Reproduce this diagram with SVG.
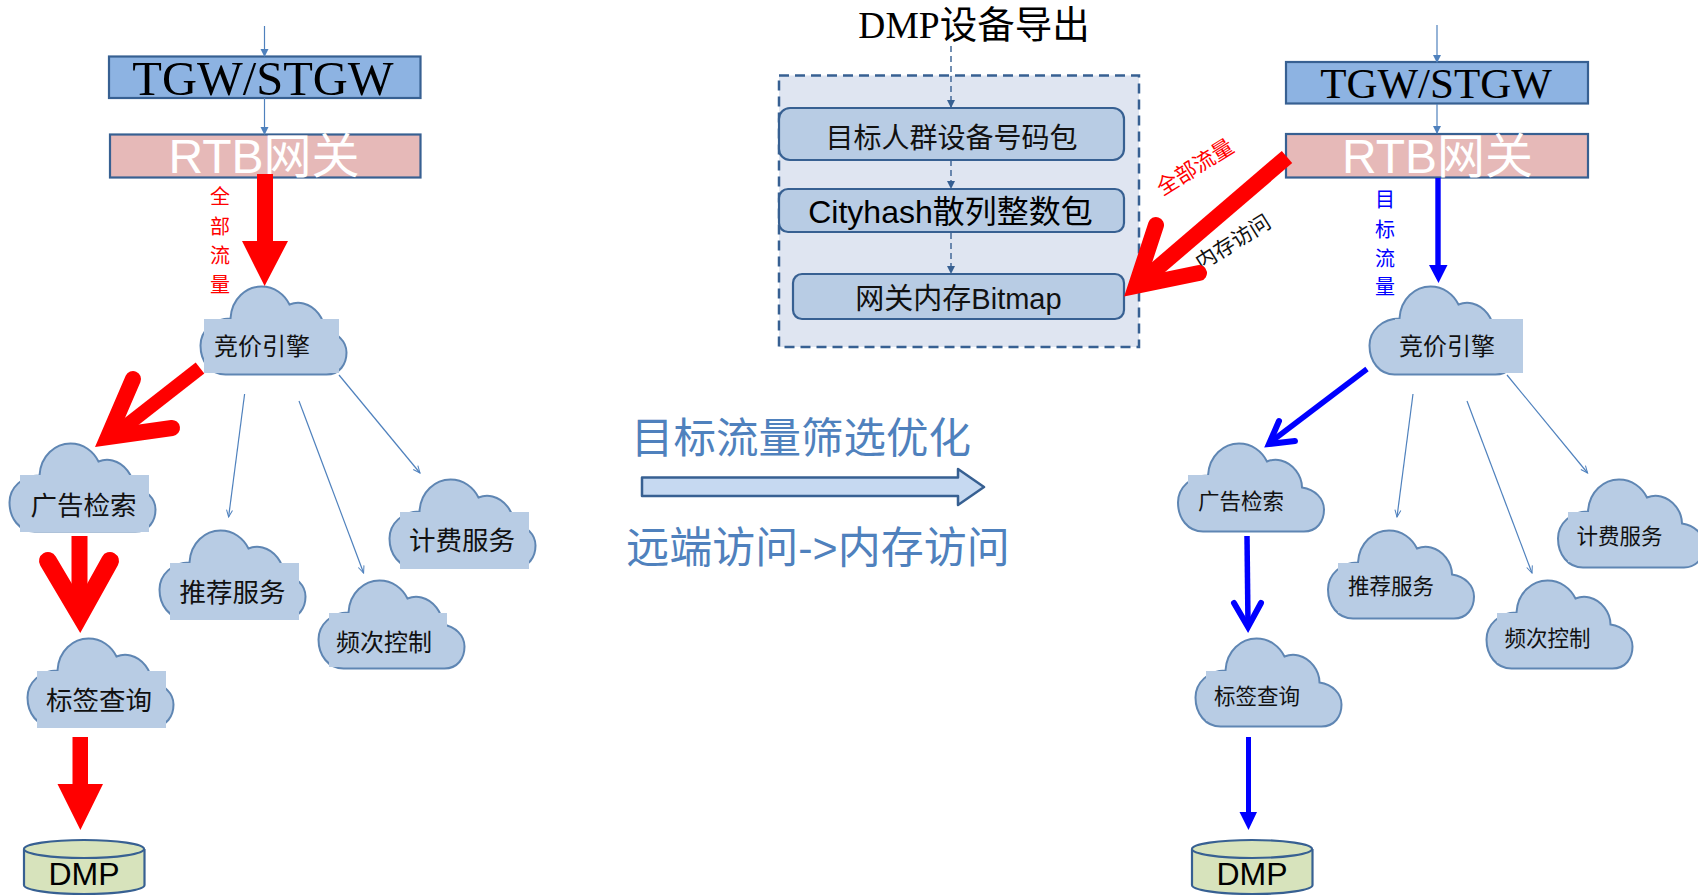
<svg xmlns="http://www.w3.org/2000/svg" width="1698" height="895" viewBox="0 0 1698 895">
<style>
text{text-anchor:middle}
.s{font-family:"Liberation Serif","Noto Sans CJK SC",serif}
.a{font-family:"Liberation Sans","Noto Sans CJK SC",sans-serif}
.c{dominant-baseline:central;fill:#111}
.cloud{fill:#b8cce4;stroke:#5f86b3;stroke-width:2}
.patch{fill:#b8cce4}
.box{stroke:#376092;stroke-width:2.2}
.thin{fill:none;stroke:#4f81bd;stroke-width:1.2}
.dash{fill:none;stroke:#376092;stroke-width:1.4;stroke-dasharray:6 4}
.r{fill:none;stroke:#f00;stroke-linecap:round;stroke-linejoin:miter}
.b{fill:none;stroke:#00f;stroke-linecap:round;stroke-linejoin:miter}
.db{fill:#d7e3bc;stroke:#376092;stroke-width:2.2}
</style>
<defs>
<path id="cl" d="M30 32C31 12 46 0 61 0C74 0 84 8 89 18C94 16 99 16 103 17C115 20 124 32 124 44C137 46 146 55 146 66C146 78 139 88 126 88L25 88C10 88 0 75 0 59C0 44 13 32 30 32Z"/>
<marker id="ah" markerWidth="9" markerHeight="9" refX="8" refY="4" orient="auto" markerUnits="userSpaceOnUse"><path d="M1 1L8 4L1 7" fill="none" stroke="#4f81bd" stroke-width="1"/></marker>
<marker id="at" markerWidth="9" markerHeight="9" refX="7" refY="4" orient="auto" markerUnits="userSpaceOnUse"><path d="M0 0L8 4L0 8Z" fill="#4f81bd"/></marker>
<marker id="ad" markerWidth="9" markerHeight="9" refX="7" refY="4" orient="auto" markerUnits="userSpaceOnUse"><path d="M0 0L8 4L0 8Z" fill="#376092"/></marker>
</defs>

<g id="left-tgw"><rect class="box" x="109" y="56.500" width="311.500" height="41.500" fill="#8db3e2"/><text class="s" x="263" y="95" font-size="48.500" fill="#000">TGW/STGW</text></g>
<g id="left-rtb"><rect class="box" x="110" y="134.500" width="310.500" height="43" fill="#e6b9b8"/><text class="a" x="264" y="173" font-size="48" fill="#fff">RTB网关</text></g>
<g id="left-bid"><use href="#cl" class="cloud" x="200.500" y="286.500"/><rect class="patch" x="204" y="319" width="135" height="54"/><text class="s c" x="262" y="347" font-size="24">竞价引擎</text></g>
<g id="left-ad"><use href="#cl" class="cloud" x="9.500" y="443.500"/><rect class="patch" x="20" y="475" width="129" height="57"/><text class="s c" x="83.500" y="506" font-size="26.500">广告检索</text></g>
<g id="left-rec"><use href="#cl" class="cloud" x="159.500" y="530.500"/><rect class="patch" x="170" y="563" width="129" height="57"/><text class="s c" x="232.500" y="593" font-size="26.500">推荐服务</text></g>
<g id="left-bill"><use href="#cl" class="cloud" x="389.500" y="479.500"/><rect class="patch" x="400" y="512" width="129" height="57"/><text class="s c" x="462" y="541" font-size="26.500">计费服务</text></g>
<g id="left-freq"><use href="#cl" class="cloud" x="318.500" y="580.500"/><rect class="patch" x="329" y="613" width="118" height="54"/><text class="s c" x="384" y="643" font-size="24">频次控制</text></g>
<g id="left-tag"><use href="#cl" class="cloud" x="27.500" y="638.500"/><rect class="patch" x="37" y="671" width="129" height="57"/><text class="s c" x="99" y="701" font-size="26.500">标签查询</text></g>
<g id="left-dmp"><path class="db" d="M24 849V885C24 890 50 894 84 894S144.500 890 144.500 885V849"/><ellipse class="db" cx="84" cy="849" rx="60" ry="9"/><text class="a" x="84" y="885" font-size="32" fill="#000">DMP</text></g>

<g id="center-panel"><rect x="779" y="75.500" width="360" height="271.500" fill="#dfe5f1" stroke="#376092" stroke-width="2.500" stroke-dasharray="10 6"/></g>
<g id="center-title"><text class="s" x="974" y="38" font-size="37.500" fill="#000">DMP设备导出</text></g>
<g id="center-pkg"><rect class="box" x="779" y="108" width="345" height="52" rx="11" fill="#b8cce4"/><text class="a c" x="951.500" y="138" font-size="28">目标人群设备号码包</text></g>
<g id="center-hash"><rect class="box" x="779" y="189" width="345" height="43" rx="9" fill="#b8cce4"/><text class="a" x="950.500" y="223" font-size="32" fill="#000">Cityhash散列整数包</text></g>
<g id="center-bitmap"><rect class="box" x="793" y="274" width="331" height="45" rx="9" fill="#b8cce4"/><text class="a" x="958.500" y="309" font-size="29" fill="#111">网关内存Bitmap</text></g>

<g id="right-tgw"><rect class="box" x="1286" y="62" width="302" height="41.500" fill="#8db3e2"/><text class="s" x="1436" y="98" font-size="43" fill="#000">TGW/STGW</text></g>
<g id="right-rtb"><rect class="box" x="1286" y="134" width="302" height="43.500" fill="#e6b9b8"/><text class="a" x="1437.500" y="173" font-size="48" fill="#fff">RTB网关</text></g>
<g id="right-bid"><use href="#cl" class="cloud" x="1369.500" y="286.500"/><rect class="patch" x="1395" y="319" width="128" height="54"/><text class="s c" x="1447" y="347" font-size="24">竞价引擎</text></g>
<g id="right-ad"><use href="#cl" class="cloud" x="1178" y="443.500"/><rect class="patch" x="1188" y="475" width="100" height="50"/><text class="s c" x="1241" y="502" font-size="21.500">广告检索</text></g>
<g id="right-rec"><use href="#cl" class="cloud" x="1328" y="530.500"/><rect class="patch" x="1338" y="563" width="100" height="50"/><text class="s c" x="1391" y="587" font-size="21.500">推荐服务</text></g>
<g id="right-bill"><use href="#cl" class="cloud" x="1558" y="479.500"/><rect class="patch" x="1568" y="512" width="100" height="50"/><text class="s c" x="1619.500" y="537" font-size="21.500">计费服务</text></g>
<g id="right-freq"><use href="#cl" class="cloud" x="1486.500" y="580.500"/><rect class="patch" x="1497" y="613" width="100" height="50"/><text class="s c" x="1547.500" y="639" font-size="21.500">频次控制</text></g>
<g id="right-tag"><use href="#cl" class="cloud" x="1195.500" y="638.500"/><rect class="patch" x="1206" y="671" width="100" height="50"/><text class="s c" x="1257" y="697" font-size="21.500">标签查询</text></g>
<g id="right-dmp"><path class="db" d="M1192 849V885C1192 890 1218 894 1252 894S1312.500 890 1312.500 885V849"/><ellipse class="db" cx="1252" cy="849" rx="60" ry="9"/><text class="a" x="1252" y="885" font-size="32" fill="#000">DMP</text></g>

<g id="labels" class="a">
<g font-size="20" fill="#f00"><text x="220" y="204">全</text><text x="220" y="234">部</text><text x="220" y="263">流</text><text x="220" y="292">量</text></g>
<g font-size="20" fill="#00f"><text x="1385" y="207">目</text><text x="1385" y="237">标</text><text x="1385" y="266">流</text><text x="1385" y="294">量</text></g>
<text font-size="21.500" fill="#f00" x="1195" y="174.500" transform="rotate(-32 1195 167)">全部流量</text>
<text font-size="21" fill="#111" x="1233" y="249.500" transform="rotate(-32 1233 242)">内存访问</text>
<text font-size="42.500" fill="#4f81bd" x="801" y="453">目标流量筛选优化</text>
<text font-size="43" fill="#4f81bd" x="818" y="563">远端访问-&gt;内存访问</text>
</g>

<g id="connectors">
<path class="thin" marker-end="url(#at)" d="M264.500 26V56"/>
<path class="thin" marker-end="url(#at)" d="M264.500 98V134"/>
<path class="thin" marker-end="url(#at)" d="M1437 25V62"/>
<path class="thin" marker-end="url(#at)" d="M1437 104V133"/>
<path class="thin" marker-end="url(#ah)" d="M244.600 394L228.600 517"/>
<path class="thin" marker-end="url(#ah)" d="M299 401L363.600 573"/>
<path class="thin" marker-end="url(#ah)" d="M339 375L420 473"/>
<path class="thin" marker-end="url(#ah)" d="M1413 394L1397 517"/>
<path class="thin" marker-end="url(#ah)" d="M1467 401L1532 573"/>
<path class="thin" marker-end="url(#ah)" d="M1507 375L1587.600 473"/>
<path class="dash" marker-end="url(#ad)" d="M951 46V107"/>
<path class="dash" marker-end="url(#ad)" d="M951 160V188"/>
<path class="dash" marker-end="url(#ad)" d="M951 233V273"/>

<path d="M257 174H273V241H288L264.600 286L242 241H257Z" fill="#f00"/>
<path d="M200 368L113 436" fill="none" stroke="#f00" stroke-width="14"/>
<path class="r" stroke-width="16" d="M133 379L108 437L172 428"/>
<path d="M79.500 536V600" fill="none" stroke="#f00" stroke-width="16"/>
<path class="r" stroke-width="18" d="M48 561L80 615L110 561"/>
<path d="M72.500 737H88V784H103L80.400 830L57.500 784H72.500Z" fill="#f00"/>

<path d="M1287 157L1140 283" fill="none" stroke="#f00" stroke-width="16"/>
<path class="r" stroke-width="16" d="M1156 225L1136 286L1199 273"/>

<path d="M1435.300 178H1440.700V265H1447.500L1438.500 283L1429 265H1435.300Z" fill="#00f"/>
<path d="M1367 369L1272 441" fill="none" stroke="#00f" stroke-width="5.500"/>
<path class="b" stroke-width="6" d="M1279 421L1269 444L1295 441"/>
<path d="M1247 536L1248 625" fill="none" stroke="#00f" stroke-width="5.500"/>
<path class="b" stroke-width="6" d="M1234 603L1248 627L1261 603"/>
<path d="M1246 737H1251V812H1257L1248.500 830L1239.500 812H1246Z" fill="#00f"/>
<path d="M642 477.500H958V469L984 487L958 505V496H642Z" fill="#c6d9f1" stroke="#376092" stroke-width="2.500" stroke-linejoin="round"/>
</g>
</svg>
